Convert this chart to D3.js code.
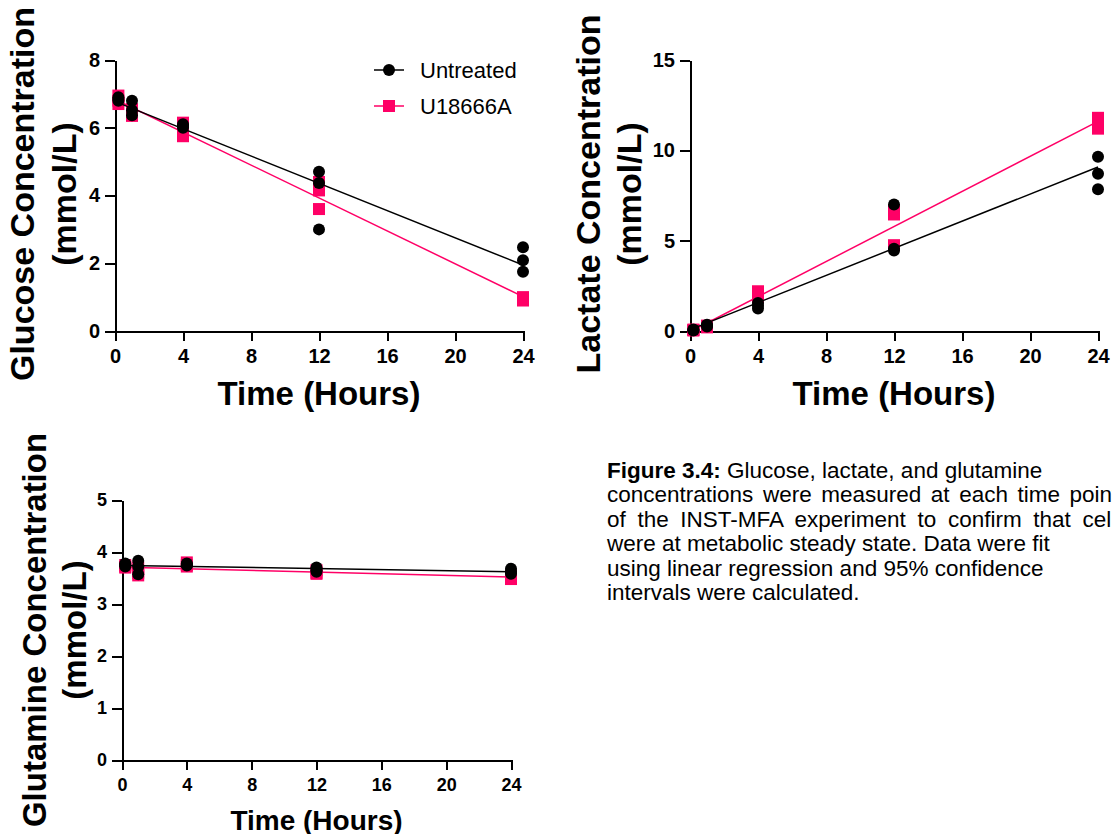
<!DOCTYPE html>
<meta charset="utf-8">
<head>
<style>
body {
  margin: 0;
  background: #fff;
  font-family: 'Liberation Sans', Arial, Helvetica, sans-serif;
}

.axis path,
.axis line {
  fill: none;
  stroke: #000;
  stroke-width: 2px;
  shape-rendering: crispEdges;
}

.axis text {
  font-family: 'Liberation Sans', Arial, Helvetica, sans-serif;
  font-weight: bold;
  fill: #000;
}

.title {
  font-weight: bold;
  text-anchor: middle;
}

.fit {
  fill: none;
  stroke-width: 1.5px;
}
</style>
</head>

<body>
<div id="chart"></div>

<script src="https://d3js.org/d3.v7.min.js"></script>
<script>

// sample times (hours)
var hours = [0.2, 1, 4, 12, 24];

// replicate values at each time, mmol/L
var glucoseUntreated = [[6.9, 6.85, 6.8], [6.8, 6.52, 6.37], [6.1, 6.05, 6.0], [4.7, 4.37, 3.0], [2.47, 2.09, 1.75]];
var glucoseU18666A   = [[6.95, 6.8, 6.7], [6.55, 6.45, 6.35], [6.15, 5.9, 5.75], [4.4, 4.15, 3.6], [1.0, 0.95, 0.9]];

var lactateUntreated = [[0.05, 0.08, 0.03], [0.3, 0.35, 0.25], [1.55, 1.4, 1.25], [7.0, 4.55, 4.45], [9.65, 8.7, 7.85]];
var lactateU18666A   = [[0.05, 0.03, 0.08], [0.3, 0.2, 0.25], [2.2, 2.0, 1.85], [6.7, 6.45, 4.75], [11.8, 11.5, 11.2]];

var glutamineUntreated = [[3.75, 3.78, 3.72], [3.83, 3.72, 3.57], [3.78, 3.74, 3.76], [3.7, 3.65, 3.62], [3.68, 3.62, 3.58]];
var glutamineU18666A   = [[3.72, 3.7, 3.75], [3.6, 3.55, 3.7], [3.8, 3.75, 3.72], [3.65, 3.58, 3.6], [3.55, 3.5, 3.48]];

var xTicks = [0, 4, 8, 12, 16, 20, 24];
var glucoseTicks = [0, 2, 4, 6, 8];
var lactateTicks = [0, 5, 10, 15];
var glutamineTicks = [0, 1, 2, 3, 4, 5];

var seriesNames = ["Untreated", "U18666A"];
var captionBold = "Figure 3.4:";
var captionLines = [
  " Glucose, lactate, and glutamine",
  "concentrations were measured at each time point",
  "of the INST-MFA experiment to confirm that cells",
  "were at metabolic steady state. Data were fit",
  "using linear regression and 95% confidence",
  "intervals were calculated."
];
// the source paragraph is spread wider on its 2nd and 3rd lines
var captionWordSpacing = [0, 3.3, 5.4, 0, 0, 0];

var black = "#000",
    pink = "#ff0066";

var svg = d3.select("#chart").append("svg")
    .attr("width", 1112)
    .attr("height", 834);

var panels = [
  {name: "Glucose", un: glucoseUntreated, tr: glucoseU18666A, ticks: glucoseTicks,
   left: 115, right: 523, top: 60, bottom: 331, tickFont: 20, tickPad: 8, xTitleFont: 33, xTitleY: 405,
   yTitleFont: 34, yTitleX: 34, yTitle2X: 76, yTitleY: 194, legend: true},
  {name: "Lactate", un: lactateUntreated, tr: lactateU18666A, ticks: lactateTicks,
   left: 690, right: 1098, top: 60, bottom: 331, tickFont: 20, tickPad: 8, xTitleFont: 33, xTitleY: 405,
   yTitleFont: 34, yTitleX: 600, yTitle2X: 641, yTitleY: 194},
  {name: "Glutamine", un: glutamineUntreated, tr: glutamineU18666A, ticks: glutamineTicks,
   left: 122, right: 511, top: 500, bottom: 760, tickFont: 18, tickPad: 8, xTitleFont: 28, xTitleY: 830,
   yTitleFont: 33, yTitleX: 46, yTitle2X: 86, yTitleY: 630}
];

function flatten(rows) {
  var pts = [];
  rows.forEach(function(vals, i) {
    vals.forEach(function(v) { pts.push({t: hours[i], v: v}); });
  });
  return pts;
}

function linfit(pts) {
  var mx = d3.mean(pts, function(d) { return d.t; }),
      my = d3.mean(pts, function(d) { return d.v; });
  var sxy = d3.sum(pts, function(d) { return (d.t - mx) * (d.v - my); }),
      sxx = d3.sum(pts, function(d) { return (d.t - mx) * (d.t - mx); });
  var b = sxy / sxx;
  return function(t) { return my + b * (t - mx); };
}

panels.forEach(function(p) {
  var x = d3.scaleLinear().domain([0, 24]).range([p.left, p.right]);
  var y = d3.scaleLinear().domain([0, d3.max(p.ticks)]).range([p.bottom, p.top]);

  var g = svg.append("g");

  g.append("g")
      .attr("class", "x axis")
      .attr("transform", "translate(0," + p.bottom + ")")
      .call(d3.axisBottom(x).tickValues(xTicks).tickFormat(d3.format("d"))
        .tickSize(10).tickSizeOuter(0).tickPadding(p.tickPad))
      .selectAll("text").style("font-size", p.tickFont + "px");

  g.append("g")
      .attr("class", "y axis")
      .attr("transform", "translate(" + p.left + ",0)")
      .call(d3.axisLeft(y).tickValues(p.ticks).tickFormat(d3.format("d"))
        .tickSize(10).tickSizeOuter(0).tickPadding(5))
      .selectAll("text").style("font-size", p.tickFont + "px");

  // treated first, untreated drawn on top
  [{rows: p.tr, color: pink, shape: "square"}, {rows: p.un, color: black, shape: "circle"}].forEach(function(s) {
    var pts = flatten(s.rows);
    var f = linfit(pts);
    var t0 = hours[0], t1 = hours[hours.length - 1];

    g.append("line")
        .attr("class", "fit")
        .attr("stroke", s.color)
        .attr("x1", x(t0)).attr("y1", y(f(t0)))
        .attr("x2", x(t1)).attr("y2", y(f(t1)));

    if (s.shape == "circle") {
      g.selectAll(null)
          .data(pts)
        .enter().append("circle")
          .attr("cx", function(d) { return x(d.t); })
          .attr("cy", function(d) { return y(d.v); })
          .attr("r", 6)
          .attr("fill", s.color);
    } else {
      g.selectAll(null)
          .data(pts)
        .enter().append("rect")
          .attr("x", function(d) { return x(d.t) - 6; })
          .attr("y", function(d) { return y(d.v) - 6; })
          .attr("width", 12)
          .attr("height", 12)
          .attr("fill", s.color);
    }
  });

  g.append("text")
      .attr("class", "title")
      .attr("x", (p.left + p.right) / 2)
      .attr("y", p.xTitleY)
      .style("font-size", p.xTitleFont + "px")
      .text("Time (Hours)");

  g.append("text")
      .attr("class", "title")
      .attr("transform", "translate(" + p.yTitleX + "," + p.yTitleY + ") rotate(-90)")
      .style("font-size", p.yTitleFont + "px")
      .text(p.name + " Concentration");

  g.append("text")
      .attr("class", "title")
      .attr("transform", "translate(" + p.yTitle2X + "," + p.yTitleY + ") rotate(-90)")
      .style("font-size", p.yTitleFont + "px")
      .text("(mmol/L)");

  if (p.legend) {
    var lg = g.append("g").attr("transform", "translate(374,70)");
    seriesNames.forEach(function(name, i) {
      var row = lg.append("g").attr("transform", "translate(0," + (i * 36) + ")");
      var c = i == 0 ? black : pink;
      row.append("line").attr("x1", 0).attr("x2", 30).attr("stroke", c).attr("stroke-width", 1.5);
      if (i == 0) row.append("circle").attr("cx", 15).attr("r", 6).attr("fill", c);
      else row.append("rect").attr("x", 9).attr("y", -6).attr("width", 12).attr("height", 12).attr("fill", c);
      row.append("text")
          .attr("x", 46)
          .attr("dy", "0.36em")
          .style("font-size", "22px")
          .text(name);
    });
  }
});

var cap = svg.append("text")
    .attr("x", 607)
    .attr("y", 478)
    .style("font-size", "22.5px");

captionLines.forEach(function(line, i) {
  if (i == 0) {
    cap.append("tspan").attr("x", 607).attr("y", 478).style("font-weight", "bold").text(captionBold);
    cap.append("tspan").text(line);
  } else {
    cap.append("tspan")
        .attr("x", 607)
        .attr("y", 478 + i * 24.4)
        .style("word-spacing", captionWordSpacing[i] + "px")
        .text(line);
  }
});

</script>
</body>
